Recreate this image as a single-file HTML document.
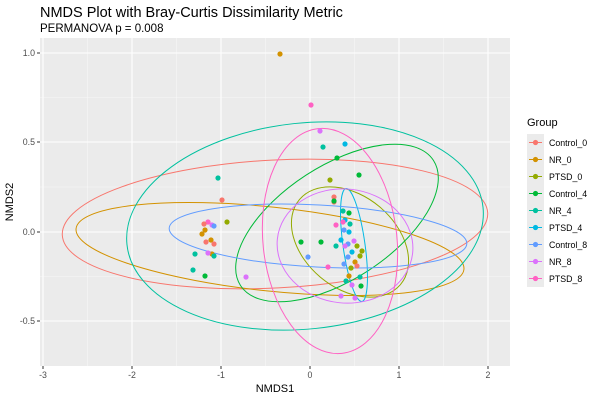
<!DOCTYPE html><html><head><style>body{margin:0;background:#fff}svg{font-family:"Liberation Sans","DejaVu Sans",sans-serif}</style></head><body>
<svg width="600" height="400" xmlns="http://www.w3.org/2000/svg">
<rect width="600" height="400" fill="#fff"/>
<text x="40" y="17" font-size="14.5" fill="#000">NMDS Plot with Bray-Curtis Dissimilarity Metric</text>
<text x="40" y="32" font-size="11.5" fill="#000">PERMANOVA p = 0.008</text>
<rect x="40" y="38" width="470" height="328" fill="#EBEBEB"/>
<g stroke="#F7F7F7" stroke-width="0.6">
<line x1="87.5" y1="38" x2="87.5" y2="366"/><line x1="176.5" y1="38" x2="176.5" y2="366"/><line x1="265.5" y1="38" x2="265.5" y2="366"/><line x1="354.5" y1="38" x2="354.5" y2="366"/><line x1="443.5" y1="38" x2="443.5" y2="366"/>
<line x1="40" y1="97.5" x2="510" y2="97.5"/><line x1="40" y1="187" x2="510" y2="187"/><line x1="40" y1="276.5" x2="510" y2="276.5"/>
</g>
<g stroke="#fff" stroke-width="1.1">
<line x1="43" y1="38" x2="43" y2="366"/><line x1="132" y1="38" x2="132" y2="366"/><line x1="221" y1="38" x2="221" y2="366"/><line x1="310" y1="38" x2="310" y2="366"/><line x1="399" y1="38" x2="399" y2="366"/><line x1="488" y1="38" x2="488" y2="366"/>
<line x1="40" y1="53" x2="510" y2="53"/><line x1="40" y1="142" x2="510" y2="142"/><line x1="40" y1="232" x2="510" y2="232"/><line x1="40" y1="321" x2="510" y2="321"/>
</g>
<g stroke="#333" stroke-width="1">
<line x1="37" y1="53" x2="40" y2="53"/><line x1="37" y1="142" x2="40" y2="142"/><line x1="37" y1="232" x2="40" y2="232"/><line x1="37" y1="321" x2="40" y2="321"/>
<line x1="43" y1="366" x2="43" y2="369"/><line x1="132" y1="366" x2="132" y2="369"/><line x1="221" y1="366" x2="221" y2="369"/><line x1="310" y1="366" x2="310" y2="369"/><line x1="399" y1="366" x2="399" y2="369"/><line x1="488" y1="366" x2="488" y2="369"/>
</g>
<g font-size="8.8" fill="#4D4D4D" text-anchor="end">
<text x="35" y="56">1.0</text><text x="35" y="145">0.5</text><text x="35" y="235">0.0</text><text x="35" y="324">-0.5</text>
</g>
<g font-size="8.8" fill="#4D4D4D" text-anchor="middle">
<text x="43" y="378">-3</text><text x="132" y="378">-2</text><text x="221" y="378">-1</text><text x="310" y="378">0</text><text x="399" y="378">1</text><text x="488" y="378">2</text>
</g>
<text x="275" y="392" font-size="11" text-anchor="middle">NMDS1</text>
<text transform="translate(13,202) rotate(-90)" font-size="11" text-anchor="middle">NMDS2</text>
<g fill="none" stroke-width="1">
<ellipse cx="275" cy="224" rx="213" ry="64" transform="rotate(-3 275 224)" stroke="#F8766D"/>
<ellipse cx="270" cy="249" rx="195" ry="42" transform="rotate(6 270 249)" stroke="#D39200"/>
<ellipse cx="350" cy="242" rx="66" ry="46" transform="rotate(40 350 242)" stroke="#93AA00"/>
<ellipse cx="337" cy="223" rx="115" ry="57" transform="rotate(-33 337 223)" stroke="#00BA38"/>
<ellipse cx="305" cy="226" rx="179" ry="103" transform="rotate(-6 305 226)" stroke="#00C19F"/>
<ellipse cx="354" cy="245" rx="11" ry="57" transform="rotate(-8 354 245)" stroke="#00B9E3"/>
<ellipse cx="318" cy="236" rx="149" ry="31" transform="rotate(3 318 236)" stroke="#619CFF"/>
<ellipse cx="345" cy="246" rx="68" ry="57" transform="rotate(6 345 246)" stroke="#DB72FB"/>
<ellipse cx="330" cy="241" rx="67" ry="113" transform="rotate(-6 330 241)" stroke="#FF61C3"/>
</g>
<g>
<circle cx="280" cy="54" r="2.6" fill="#D39200"/>
<circle cx="311" cy="105" r="2.6" fill="#FF61C3"/>
<circle cx="320" cy="131" r="2.6" fill="#DB72FB"/>
<circle cx="345" cy="144" r="2.6" fill="#00B9E3"/>
<circle cx="323" cy="147" r="2.6" fill="#00C19F"/>
<circle cx="337" cy="158" r="2.6" fill="#00BA38"/>
<circle cx="359" cy="175" r="2.6" fill="#00BA38"/>
<circle cx="330" cy="180" r="2.6" fill="#93AA00"/>
<circle cx="218" cy="178" r="2.6" fill="#00C19F"/>
<circle cx="222" cy="200" r="2.6" fill="#F8766D"/>
<circle cx="334" cy="202" r="2.6" fill="#F8766D"/>
<circle cx="334" cy="197" r="2.6" fill="#F8766D"/>
<circle cx="334" cy="201" r="2.6" fill="#00BA38"/>
<circle cx="343" cy="211" r="2.6" fill="#00C19F"/>
<circle cx="349" cy="213" r="2.6" fill="#00BA38"/>
<circle cx="345" cy="220" r="2.6" fill="#00B9E3"/>
<circle cx="350" cy="224" r="2.6" fill="#00C19F"/>
<circle cx="343" cy="222" r="2.6" fill="#FF61C3"/>
<circle cx="336" cy="225" r="2.6" fill="#FF61C3"/>
<circle cx="344" cy="230" r="2.6" fill="#619CFF"/>
<circle cx="349" cy="232" r="2.6" fill="#00B9E3"/>
<circle cx="341" cy="240" r="2.6" fill="#00B9E3"/>
<circle cx="348" cy="244" r="2.6" fill="#619CFF"/>
<circle cx="354" cy="241" r="2.6" fill="#DB72FB"/>
<circle cx="345" cy="246" r="2.6" fill="#DB72FB"/>
<circle cx="336" cy="246" r="2.6" fill="#00C19F"/>
<circle cx="357" cy="246" r="2.6" fill="#93AA00"/>
<circle cx="352" cy="252" r="2.6" fill="#00B9E3"/>
<circle cx="348" cy="257" r="2.6" fill="#619CFF"/>
<circle cx="355" cy="262" r="2.6" fill="#D39200"/>
<circle cx="344" cy="264" r="2.6" fill="#619CFF"/>
<circle cx="351" cy="268" r="2.6" fill="#93AA00"/>
<circle cx="357" cy="266" r="2.6" fill="#F8766D"/>
<circle cx="360" cy="256" r="2.6" fill="#93AA00"/>
<circle cx="362" cy="251" r="2.6" fill="#93AA00"/>
<circle cx="349" cy="276" r="2.6" fill="#D39200"/>
<circle cx="360" cy="277" r="2.6" fill="#00C19F"/>
<circle cx="346" cy="281" r="2.6" fill="#00C19F"/>
<circle cx="352" cy="285" r="2.6" fill="#DB72FB"/>
<circle cx="361" cy="286" r="2.6" fill="#00BA38"/>
<circle cx="341" cy="296" r="2.6" fill="#DB72FB"/>
<circle cx="355" cy="298" r="2.6" fill="#DB72FB"/>
<circle cx="321" cy="242" r="2.6" fill="#00BA38"/>
<circle cx="308" cy="257" r="2.6" fill="#619CFF"/>
<circle cx="328" cy="267" r="2.6" fill="#FF61C3"/>
<circle cx="301" cy="242" r="2.6" fill="#00BA38"/>
<circle cx="208" cy="222" r="2.6" fill="#FF61C3"/>
<circle cx="212" cy="225" r="2.6" fill="#DB72FB"/>
<circle cx="227" cy="222" r="2.6" fill="#93AA00"/>
<circle cx="214" cy="226" r="2.6" fill="#619CFF"/>
<circle cx="204" cy="224" r="2.6" fill="#F8766D"/>
<circle cx="205" cy="230" r="2.6" fill="#D39200"/>
<circle cx="202" cy="234" r="2.6" fill="#D39200"/>
<circle cx="206" cy="242" r="2.6" fill="#F8766D"/>
<circle cx="211" cy="240" r="2.6" fill="#D39200"/>
<circle cx="214" cy="244" r="2.6" fill="#F8766D"/>
<circle cx="212" cy="254" r="2.6" fill="#D39200"/>
<circle cx="208" cy="253" r="2.6" fill="#DB72FB"/>
<circle cx="214" cy="256" r="2.6" fill="#00C19F"/>
<circle cx="195" cy="254" r="2.6" fill="#00C19F"/>
<circle cx="193" cy="270" r="2.6" fill="#00C19F"/>
<circle cx="205" cy="276" r="2.6" fill="#00BA38"/>
<circle cx="246" cy="277" r="2.6" fill="#DB72FB"/>
</g>
<text x="527" y="126" font-size="11">Group</text>
<g font-size="8.8" fill="#000">
<g transform="translate(527,134)"><rect width="17" height="17" fill="#EBEBEB"/><line x1="2" y1="8.5" x2="15" y2="8.5" stroke="#F8766D"/><circle cx="8.5" cy="8.5" r="2.6" fill="#F8766D"/><text x="22" y="12">Control_0</text></g>
<g transform="translate(527,151)"><rect width="17" height="17" fill="#EBEBEB"/><line x1="2" y1="8.5" x2="15" y2="8.5" stroke="#D39200"/><circle cx="8.5" cy="8.5" r="2.6" fill="#D39200"/><text x="22" y="12">NR_0</text></g>
<g transform="translate(527,168)"><rect width="17" height="17" fill="#EBEBEB"/><line x1="2" y1="8.5" x2="15" y2="8.5" stroke="#93AA00"/><circle cx="8.5" cy="8.5" r="2.6" fill="#93AA00"/><text x="22" y="12">PTSD_0</text></g>
<g transform="translate(527,185)"><rect width="17" height="17" fill="#EBEBEB"/><line x1="2" y1="8.5" x2="15" y2="8.5" stroke="#00BA38"/><circle cx="8.5" cy="8.5" r="2.6" fill="#00BA38"/><text x="22" y="12">Control_4</text></g>
<g transform="translate(527,202)"><rect width="17" height="17" fill="#EBEBEB"/><line x1="2" y1="8.5" x2="15" y2="8.5" stroke="#00C19F"/><circle cx="8.5" cy="8.5" r="2.6" fill="#00C19F"/><text x="22" y="12">NR_4</text></g>
<g transform="translate(527,219)"><rect width="17" height="17" fill="#EBEBEB"/><line x1="2" y1="8.5" x2="15" y2="8.5" stroke="#00B9E3"/><circle cx="8.5" cy="8.5" r="2.6" fill="#00B9E3"/><text x="22" y="12">PTSD_4</text></g>
<g transform="translate(527,236)"><rect width="17" height="17" fill="#EBEBEB"/><line x1="2" y1="8.5" x2="15" y2="8.5" stroke="#619CFF"/><circle cx="8.5" cy="8.5" r="2.6" fill="#619CFF"/><text x="22" y="12">Control_8</text></g>
<g transform="translate(527,253)"><rect width="17" height="17" fill="#EBEBEB"/><line x1="2" y1="8.5" x2="15" y2="8.5" stroke="#DB72FB"/><circle cx="8.5" cy="8.5" r="2.6" fill="#DB72FB"/><text x="22" y="12">NR_8</text></g>
<g transform="translate(527,270)"><rect width="17" height="17" fill="#EBEBEB"/><line x1="2" y1="8.5" x2="15" y2="8.5" stroke="#FF61C3"/><circle cx="8.5" cy="8.5" r="2.6" fill="#FF61C3"/><text x="22" y="12">PTSD_8</text></g>
</g>
</svg>
</body></html>
